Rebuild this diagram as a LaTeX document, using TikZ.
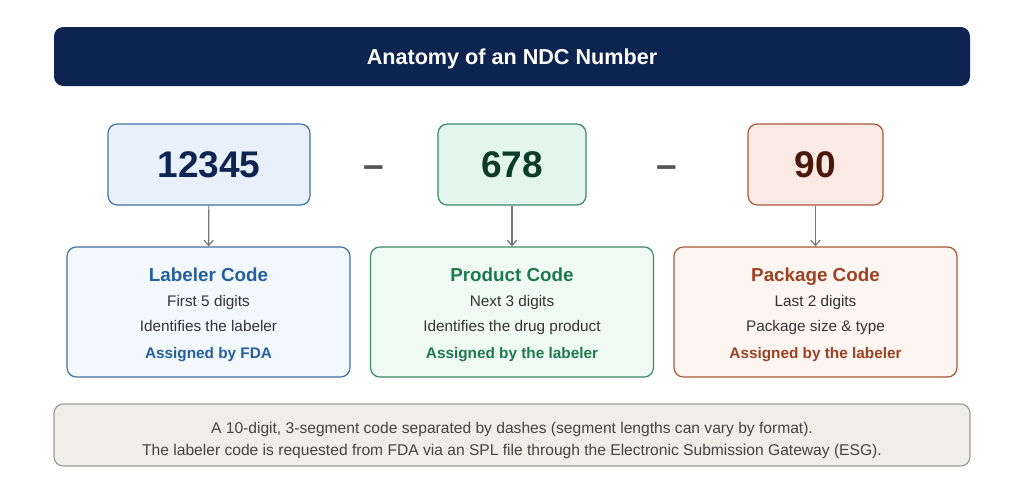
\documentclass[tikz,border=0pt]{standalone}
\usepackage{fontspec}
\setmainfont{Liberation Sans}
\usetikzlibrary{arrows.meta}
\tikzset{>=stealth}

\definecolor{navy}{HTML}{0D2451}
\definecolor{bodytext}{HTML}{333333}
\definecolor{arrowgray}{HTML}{777777}
\definecolor{dashgray}{HTML}{555555}
\definecolor{labfill}{HTML}{E8F1FB}
\definecolor{labdesc}{HTML}{F3F8FD}
\definecolor{labline}{HTML}{3E72A4}
\definecolor{labhead}{HTML}{23609E}
\definecolor{labnum}{HTML}{0D2451}
\definecolor{profill}{HTML}{E3F6EE}
\definecolor{prodesc}{HTML}{F0FAF5}
\definecolor{proline}{HTML}{3A8A66}
\definecolor{prohead}{HTML}{1E7A4E}
\definecolor{pronum}{HTML}{0B3B2A}
\definecolor{pakfill}{HTML}{FBEAE3}
\definecolor{pakdesc}{HTML}{FDF5F1}
\definecolor{pakline}{HTML}{A8583A}
\definecolor{pakhead}{HTML}{9B4222}
\definecolor{paknum}{HTML}{4A1808}
\definecolor{notefill}{HTML}{EFEEE8}
\definecolor{noteline}{HTML}{9A9A9A}
\definecolor{notetext}{HTML}{444444}

\tikzset{
  numbox/.style={draw, line width=0.9pt, rounded corners=7pt, minimum height=60.75pt, inner sep=0pt},
  descbox/.style={draw, line width=0.9pt, rounded corners=7pt, minimum width=212.25pt, minimum height=97.5pt, inner sep=0pt},
  numtext/.style={anchor=base, inner sep=0pt, font=\fontsize{27.8}{32}\selectfont\bfseries},
  headtext/.style={anchor=base, inner sep=0pt, font=\fontsize{14.1}{17}\selectfont\bfseries},
  bodyline/.style={anchor=base, inner sep=0pt, font=\fontsize{11.5}{14}\selectfont, text=bodytext},
  link/.style={->, > = {Straight Barb[length=4pt, width=7pt]}, line width=0.9pt, color=arrowgray}
}

\begin{document}
\begin{tikzpicture}[x=0.75pt, y=-0.75pt]
	\useasboundingbox (0,0) rectangle (1024,493);
	% title bar
	\node (title) at (512,56.5) [fill=navy, rounded corners=7pt, minimum width=687pt, minimum height=44.25pt] {};
	\node (titletext) at (512,64) [anchor=base, inner sep=0pt, text=white, font=\fontsize{16.2}{19}\selectfont\bfseries] {Anatomy of an NDC Number};
	% the three segments
	\node (labnum) at (209,164.5) [numbox, draw=labline, fill=labfill, minimum width=151.5pt] {};
	\node (pronum) at (512,164.5) [numbox, draw=proline, fill=profill, minimum width=111pt] {};
	\node (paknum) at (815.5,164.5) [numbox, draw=pakline, fill=pakfill, minimum width=101.25pt] {};
	\node (labdigits) at (209,177.5) [numtext, text=labnum] {12345};
	\node (prodigits) at (512,177.5) [numtext, text=pronum] {678};
	\node (pakdigits) at (815.5,177.5) [numtext, text=paknum] {90};
	\node (dashA) at (373.5,177.5) [numtext, text=dashgray] {–};
	\node (dashB) at (667,177.5) [numtext, text=dashgray] {–};
	% descriptions
	\foreach \n/\cx/\head/\lineA/\lineB/\assign in {lab/208.5/Labeler Code/First 5 digits/Identifies the labeler/Assigned by FDA, pro/512/Product Code/Next 3 digits/Identifies the drug product/Assigned by the labeler, pak/815.5/Package Code/Last 2 digits/Package size \& type/Assigned by the labeler}
	{
	\node (\n desc) at (\cx,312) [descbox, draw=\n line, fill=\n desc] {};
	\node (\n head) at (\cx,281.5) [headtext, text=\n head] {\head};
	\node (\n first) at (\cx,306.5) [bodyline] {\lineA};
	\node (\n second) at (\cx,331.5) [bodyline] {\lineB};
	\node (\n assign) at (\cx,358.5) [bodyline, font=\fontsize{11.5}{14}\selectfont\bfseries, text=\n head] {\assign};
	\draw [link] (\n num) -- (\n desc);
	}
	% note at the bottom
	\node (note) at (512,435) [draw=noteline, line width=0.9pt, fill=notefill, rounded corners=7pt, minimum width=687pt, minimum height=46.5pt] {};
	\node (noteA) at (512,433.5) [bodyline, font=\fontsize{11.7}{14}\selectfont, text=notetext] {A 10-digit, 3-segment code separated by dashes (segment lengths can vary by format).};
	\node (noteB) at (512,455.5) [bodyline, font=\fontsize{11.7}{14}\selectfont, text=notetext] {The labeler code is requested from FDA via an SPL file through the Electronic Submission Gateway (ESG).};
\end{tikzpicture}
\end{document}
